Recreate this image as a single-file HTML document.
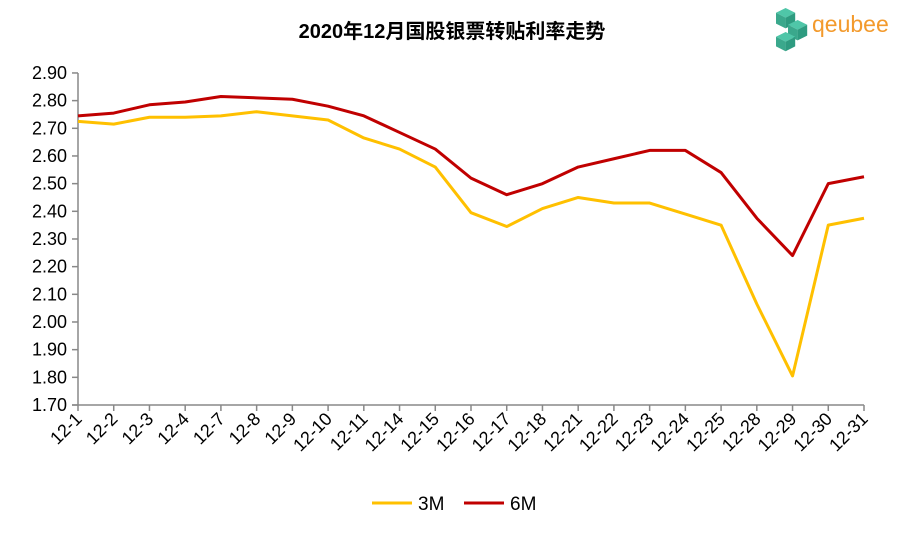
<!DOCTYPE html>
<html><head><meta charset="utf-8"><style>
body{margin:0;background:#fff;}
svg{display:block;font-family:"Liberation Sans","Noto Sans CJK SC",sans-serif;}
</style></head><body>
<svg width="904" height="533" xmlns="http://www.w3.org/2000/svg">
<text x="452" y="38" text-anchor="middle" font-size="20" font-weight="bold" fill="#000">2020年12月国股银票转贴利率走势</text>
<g transform="translate(776,8) scale(1.2)">
<polygon points="8,0 16,4 8,8 0,4" fill="#4fc6a8"/>
<polygon points="0,4 8,8 8,17 0,13" fill="#3aa88c"/>
<polygon points="8,8 16,4 16,13 8,17" fill="#2e9b80"/>
<polygon points="18,10 26,14 18,18 10,14" fill="#4fc6a8"/>
<polygon points="10,14 18,18 18,27 10,23" fill="#3aa88c"/>
<polygon points="18,18 26,14 26,23 18,27" fill="#2e9b80"/>
<polygon points="8,20 16,24 8,28 0,24" fill="#4fc6a8"/>
<polygon points="0,24 8,28 8,36 0,32" fill="#3aa88c"/>
<polygon points="8,28 16,24 16,32 8,36" fill="#2e9b80"/>
</g>
<text x="812" y="32" font-size="23" fill="#f39a2c">qeubee</text>
<g id="ch"></g>
<g transform="translate(372,503)">
<line x1="0" y1="0" x2="40" y2="0" stroke="#ffc000" stroke-width="3"/>
<text x="46" y="7" font-size="19">3M</text>
<line x1="92" y1="0" x2="132" y2="0" stroke="#c00000" stroke-width="3"/>
<text x="138" y="7" font-size="19">6M</text>
</g>
<script>
var ns="http://www.w3.org/2000/svg",ch=document.getElementById('ch');
function Y(v){return 405-(v-1.70)*276.7;}
function el(t,a,p,txt){var e=document.createElementNS(ns,t);for(var k in a)e.setAttribute(k,a[k]);if(txt)e.textContent=txt;(p||ch).appendChild(e);return e;}
for(var i=0;i<=12;i++){var v=1.7+i*0.1,y=Y(v);el('text',{x:67,y:y+6,'font-size':18,'text-anchor':'end'},ch,v.toFixed(2));el('line',{x1:72,y1:y,x2:78,y2:y,stroke:'#888','stroke-width':1.5});}
el('line',{x1:78,y1:Y(2.9),x2:78,y2:405,stroke:'#888','stroke-width':1.5});
el('line',{x1:72,y1:405,x2:864,y2:405,stroke:'#888','stroke-width':1.5});
var L=['12-1','12-2','12-3','12-4','12-7','12-8','12-9','12-10','12-11','12-14','12-15','12-16','12-17','12-18','12-21','12-22','12-23','12-24','12-25','12-28','12-29','12-30','12-31'];
function X(i){return 78+i*786/22;}
L.forEach(function(l,i){var x=X(i);el('line',{x1:x,y1:405,x2:x,y2:411,stroke:'#888','stroke-width':1.5});el('text',{x:0,y:0,'font-size':18,'text-anchor':'end',transform:'translate('+(x+5)+',420) rotate(-45)'},ch,l);});
var a=[2.725,2.715,2.74,2.74,2.745,2.76,2.745,2.73,2.665,2.625,2.56,2.395,2.345,2.41,2.45,2.43,2.43,2.39,2.35,2.065,1.805,2.35,2.375];
var b=[2.745,2.755,2.785,2.795,2.815,2.81,2.805,2.78,2.745,2.685,2.625,2.52,2.46,2.5,2.56,2.59,2.62,2.62,2.54,2.375,2.24,2.5,2.525];
function P(d,c){el('polyline',{points:d.map(function(v,i){return X(i)+','+Y(v)}).join(' '),fill:'none',stroke:c,'stroke-width':3,'stroke-linejoin':'round'});}
P(a,'#ffc000');P(b,'#c00000');
</script>
</svg>
</body></html>
